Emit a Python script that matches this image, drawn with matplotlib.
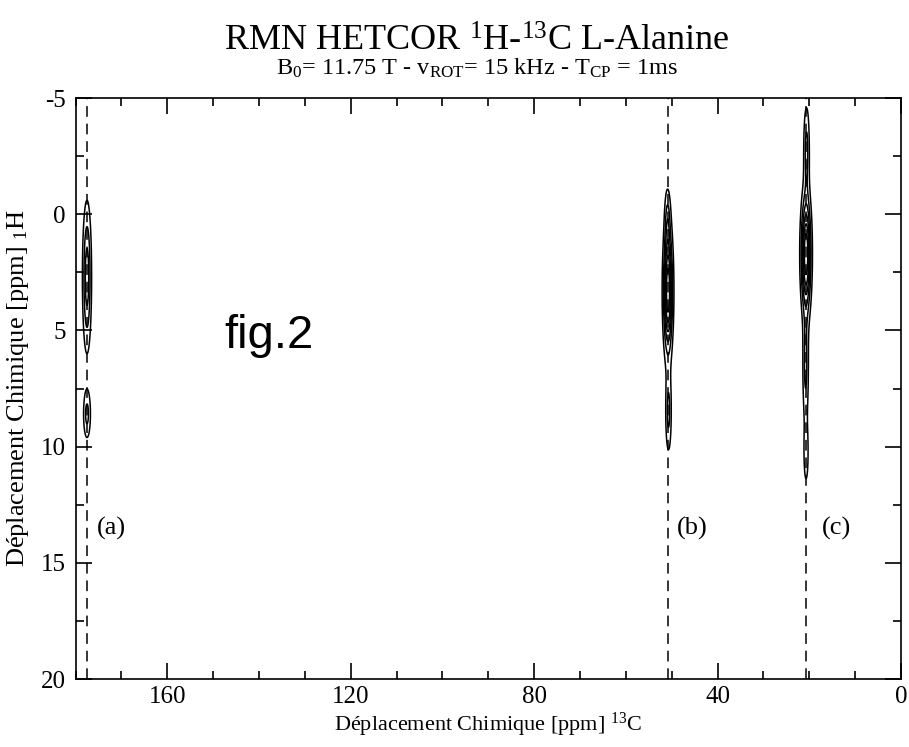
import numpy as np
import matplotlib
matplotlib.use("Agg")
import matplotlib.pyplot as plt
from matplotlib.ticker import MultipleLocator

plt.rcParams["font.family"] = ["Liberation Serif", "DejaVu Serif"]
plt.rcParams["mathtext.fontset"] = "custom"
plt.rcParams["mathtext.rm"] = "Liberation Serif"
plt.rcParams["mathtext.it"] = "Liberation Serif:italic"
plt.rcParams["axes.unicode_minus"] = False

# Raies de correlation 1H-13C (ppm), largeurs et intensites relatives
pic_c13 = [177.5, 177.5, 50.8, 50.9, 50.7, 20.7, 20.6, 20.8, 20.7]
pic_h1 = [2.7, 8.6, 3.3, 0.3, 8.5, 1.7, -2.8, 6.5, 10.3]
largeur_c13 = [0.56, 0.5, 0.6, 0.4, 0.4, 0.65, 0.4, 0.4, 0.35]
largeur_h1 = [1.84, 0.68, 1.6, 0.9, 1.1, 1.5, 1.2, 1.6, 0.9]
intensite = [0.5, 0.3, 1.0, 0.25, 0.3, 1.0, 0.3, 0.3, 0.2]

# Positions des carbones (a) COO, (b) CH, (c) CH3
carbones = [177.5, 50.8, 20.7]
etiquettes = ["(a)", "(b)", "(c)"]
etiq_x = [175.3, 48.8, 17.2]
etiq_y = [13.5, 13.5, 13.5]

niveaux = [0.1, 0.25, 0.4, 0.55, 0.7, 0.85]

# Spectre 2D
c13 = np.linspace(0, 180, 1801)
h1 = np.linspace(-5, 20, 1001)
C, H = np.meshgrid(c13, h1)
spectre = np.zeros_like(C)
for xc, yc, sx, sy, a in zip(pic_c13, pic_h1, largeur_c13, largeur_h1, intensite):
    spectre += a * np.exp(-0.5 * ((C - xc) / sx) ** 2 - 0.5 * ((H - yc) / sy) ** 2)

fig = plt.figure(figsize=(9.09, 7.47), dpi=100)
ax = fig.add_axes([0.0831, 0.0910, 0.9081, 0.7778])

ax.contour(C, H, spectre, levels=niveaux, colors="black", linewidths=1.1)

for x in carbones:
    ax.axvline(x, color="black", lw=1.1, dashes=[7, 4.5])

for t, x, y in zip(etiquettes, etiq_x, etiq_y):
    ax.text(x, y, t, fontsize=19, ha="left", va="center")

ax.text(147.6, 5.76, "fig.2", fontsize=34, family="Liberation Sans", ha="left", va="baseline")

ax.set_xlim(180, 0)
ax.set_ylim(20, -5)
ax.xaxis.set_major_locator(MultipleLocator(40))
ax.xaxis.set_minor_locator(MultipleLocator(10))
ax.yaxis.set_major_locator(MultipleLocator(5))
ax.yaxis.set_minor_locator(MultipleLocator(2.5))
ax.tick_params(which="both", direction="in", top=True, right=True, width=1.2, labelsize=18)
ax.tick_params(which="major", length=11.5, pad=5)
ax.tick_params(which="minor", length=5.8)
ax.tick_params(axis="y", which="major", pad=7)
for s in ax.spines.values():
    s.set_linewidth(1.2)

ax.set_xlabel("Déplacement Chimique [ppm] $^{13}$C", fontsize=16, labelpad=2)
ax.set_ylabel("Déplacement Chimique [ppm] $_{1}$H", fontsize=19)
ax.yaxis.set_label_coords(-0.054, 0.5)

fig.text(0.524, 0.944, "RMN HETCOR $^{1}$H-$^{13}$C L-Alanine", fontsize=26, ha="center", va="center")
fig.text(0.525, 0.908, "B$_{0}$= 11.75 T - v$_{\\mathrm{ROT}}$= 15 kHz - T$_{\\mathrm{CP}}$ = 1ms",
         fontsize=17.5, ha="center", va="center")

fig.savefig("out.png", dpi=100)
